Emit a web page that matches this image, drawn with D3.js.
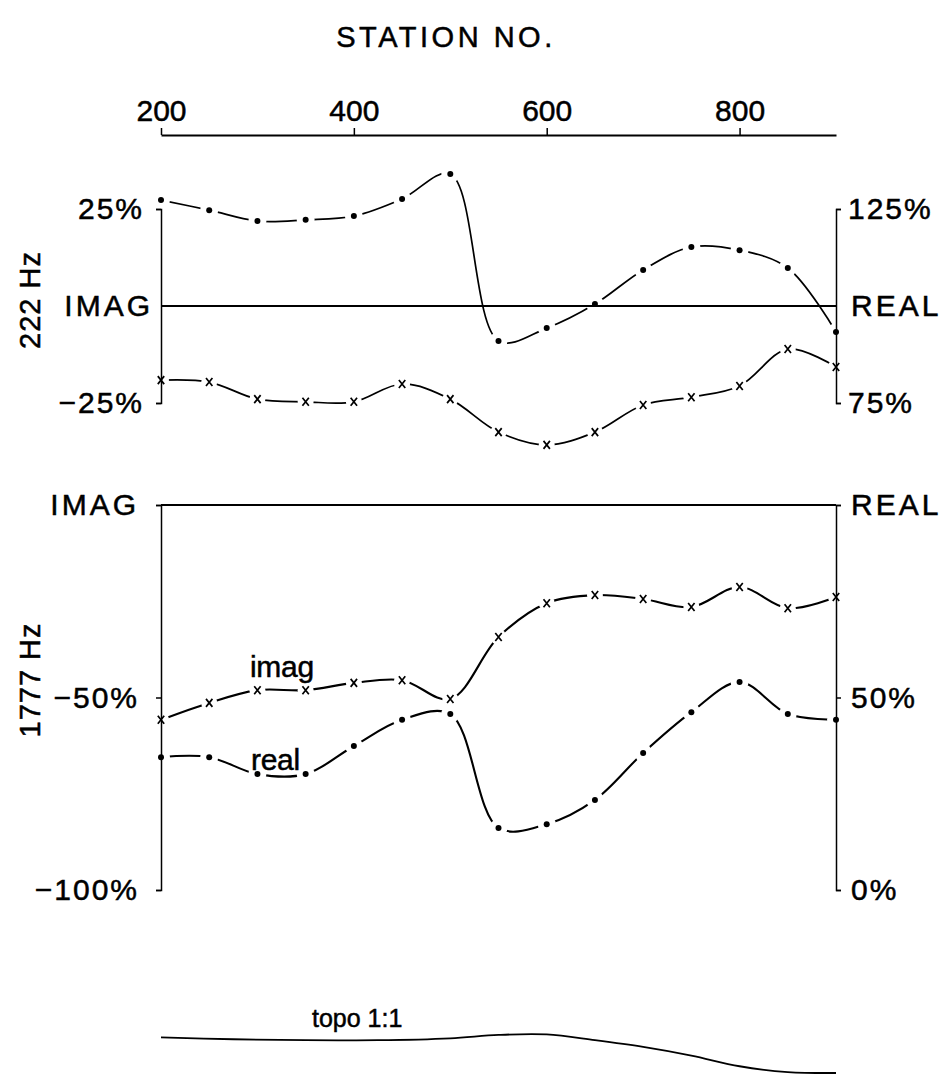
<!DOCTYPE html>
<html><head><meta charset="utf-8">
<script src="https://cdn.jsdelivr.net/npm/d3@7"></script>
<style>
body{margin:0;background:#fff}
text{font-family:"Liberation Sans",Arial,Helvetica,sans-serif;fill:#000}
</style>
</head><body>
<svg id="chart" width="950" height="1075"></svg>
<script>
// ---- data ----
const stations = [200,250,300,350,400,450,500,550,600,650,700,750,800,850,900];
const stationTicks = [200,400,600,800];
// 222 Hz (percent)
const imag222 = [-19.1,-19.6,-24.0,-24.7,-24.7,-20.1,-24.0,-32.5,-35.8,-32.5,-25.5,-23.5,-20.6,-11.1,-15.7];
const real222 = [127.3,124.7,121.9,122.2,123.2,127.6,134.0,91.0,94.3,100.5,109.3,115.2,114.4,109.8,93.3];
// 1777 Hz (percent)
const imag1777 = [-55.8,-51.4,-48.1,-48.1,-46.2,-45.5,-50.4,-34.3,-25.5,-23.4,-24.4,-26.5,-21.3,-26.8,-23.9];
const real1777 = [34.5,34.5,30.1,30.1,37.4,44.2,45.7,16.1,17.1,23.4,35.6,46.2,54.0,45.7,44.2];
// topography (relative elevation, station units, 1:1)
const topoStations = [200,275,350,425,500,550,600,650,700,750,800,850,900];
const topoElev = [37,35,34,34,36,39.5,40,34,27,18,7,1,0];
// axis tick values
const leftTicks222 = [-25,0,25];
const rightTicks222 = [75,100,125];
const leftTicks1777 = [-100,-50,0];
const rightTicks1777 = [0,50,100];

// ---- scales ----
const svg = d3.select("#chart");
const x = d3.scaleLinear().domain([200,900]).range([161,836]);
const yL1 = d3.scaleLinear().domain([-25,25]).range([403,209]);
const yR1 = d3.scaleLinear().domain([75,125]).range([403,209]);
const yL2 = d3.scaleLinear().domain([-100,0]).range([890,505]);
const yR2 = d3.scaleLinear().domain([0,100]).range([890,505]);
const k = (836-161)/700;
const yT = d3.scaleLinear().domain([0,100]).range([1073,1073-100*k]);

const pct = d => (d<0 ? "\u2212"+Math.abs(d) : d) + "%";

const series = [
  {id:"s1", vals: imag222, y: yL1, mark: "x", w: 1.7, gap: 8},
  {id:"s2", vals: real222, y: yR1, mark: "dot", w: 1.7, gap: 9},
  {id:"s3", vals: imag1777, y: yL2, mark: "x", w: 2.1, gap: 8},
  {id:"s4", vals: real1777, y: yR2, mark: "dot", w: 2.1, gap: 9}
];

const defs = svg.append("defs");
const gCurves = svg.append("g").attr("class","curves");
series.forEach(s => {
  s.pts = stations.map((st,i)=>({s:st, v:s.vals[i]}));
  // mask that opens a small gap in the line around each data point
  const m = defs.append("mask").attr("id","mask-"+s.id).attr("maskUnits","userSpaceOnUse")
    .attr("x",0).attr("y",0).attr("width",950).attr("height",1075);
  m.append("rect").attr("x",0).attr("y",0).attr("width",950).attr("height",1075).attr("fill","#fff");
  s.pts.forEach(d => m.append("circle").attr("cx",x(d.s)).attr("cy",s.y(d.v)).attr("r",s.gap).attr("fill","#000"));
  gCurves.append("path")
    .attr("d", d3.line().x(d=>x(d.s)).y(d=>s.y(d.v)).curve(d3.curveCatmullRom.alpha(0.5))(s.pts))
    .attr("fill","none").attr("stroke","#000").attr("stroke-width",s.w)
    .attr("mask","url(#mask-"+s.id+")");
});

// topo line
svg.append("path")
  .attr("d", d3.line().x(d=>x(d)).y((d,i)=>yT(topoElev[i])).curve(d3.curveCatmullRom.alpha(0.5))(topoStations))
  .attr("fill","none").attr("stroke","#000").attr("stroke-width",1.8);

// ---- axes ----
function styleAxis(g, fs){
  g.select(".domain").attr("stroke","#000").attr("stroke-width",1.5);
  g.selectAll(".tick line").attr("stroke","#000").attr("stroke-width",1.5);
  g.selectAll(".tick text").attr("font-size",fs).attr("letter-spacing",2).attr("fill","#000")
    .attr("stroke","#000").attr("stroke-width",0.5)
    .style("font-family","'Liberation Sans',Arial,sans-serif");
}
const topAx = svg.append("g").attr("transform","translate(0,135)")
  .call(d3.axisTop(x).tickValues(stationTicks).tickSizeInner(7).tickSizeOuter(0).tickPadding(7).tickFormat(d3.format("d")));
styleAxis(topAx, 30);
topAx.select(".domain").attr("stroke-width",1.8);
topAx.selectAll(".tick text").attr("letter-spacing",0);

// zero line panel 1
svg.append("line").attr("x1",x(200)).attr("x2",x(900)).attr("y1",yL1(0)).attr("y2",yL1(0))
  .attr("stroke","#000").attr("stroke-width",1.8);
// top line panel 2
svg.append("line").attr("x1",x(200)).attr("x2",x(900)).attr("y1",yL2(0)).attr("y2",yL2(0))
  .attr("stroke","#000").attr("stroke-width",1.8);

const l1 = svg.append("g").attr("transform",`translate(${x(200)},0)`)
  .call(d3.axisLeft(yL1).tickValues(leftTicks222).tickSizeInner(5).tickSizeOuter(5).tickPadding(12)
    .tickFormat(d=> d===0 ? "IMAG" : pct(d)));
styleAxis(l1, 30);
l1.selectAll(".tick").filter(d=>d===0).select("line").remove();
l1.selectAll(".tick").filter(d=>d===0).select("text").attr("x",-8).attr("letter-spacing",3);

const r1 = svg.append("g").attr("transform",`translate(${x(900)},0)`)
  .call(d3.axisRight(yR1).tickValues(rightTicks222).tickSizeInner(5).tickSizeOuter(5).tickPadding(7)
    .tickFormat(d=> d===100 ? "REAL" : d+"%"));
styleAxis(r1, 30);
r1.selectAll(".tick").filter(d=>d===100).select("line").remove();
r1.selectAll(".tick").filter(d=>d===100).select("text").attr("x",15).attr("letter-spacing",3);

const l2 = svg.append("g").attr("transform",`translate(${x(200)},0)`)
  .call(d3.axisLeft(yL2).tickValues(leftTicks1777).tickSizeInner(5).tickSizeOuter(5).tickPadding(17)
    .tickFormat(d=> d===0 ? "IMAG" : pct(d)));
styleAxis(l2, 30);
l2.selectAll(".tick").filter(d=>d===0).select("text").attr("letter-spacing",3);

const r2 = svg.append("g").attr("transform",`translate(${x(900)},0)`)
  .call(d3.axisRight(yR2).tickValues(rightTicks1777).tickSizeInner(5).tickSizeOuter(5).tickPadding(10)
    .tickFormat(d=> d===100 ? "REAL" : d+"%"));
styleAxis(r2, 30);
r2.selectAll(".tick").filter(d=>d===100).select("text").attr("letter-spacing",3);

// ---- markers ----
const gM = svg.append("g").attr("class","markers");
series.forEach(s => {
  s.pts.forEach(d => {
    if (s.mark === "dot") {
      gM.append("circle").attr("cx",x(d.s)).attr("cy",s.y(d.v)).attr("r",3).attr("fill","#000");
    } else {
      gM.append("path")
        .attr("transform",`translate(${x(d.s)},${s.y(d.v)})`)
        .attr("d","M-3.2,-4L3.2,4M3.2,-4L-3.2,4")
        .attr("stroke","#000").attr("stroke-width",1.7).attr("fill","none");
    }
  });
});

// ---- text ----
function label(t){ return t.attr("stroke","#000").attr("stroke-width",0.5); }
label(svg.append("text").attr("x",446).attr("y",47).attr("text-anchor","middle")
  .attr("font-size",29).attr("letter-spacing",3.5).text("STATION NO."));
label(svg.append("text").attr("transform","translate(40,300) rotate(-90)").attr("text-anchor","middle")
  .attr("font-size",29).attr("letter-spacing",1).text("222 Hz"));
label(svg.append("text").attr("transform","translate(40,680) rotate(-90)").attr("text-anchor","middle")
  .attr("font-size",29).attr("letter-spacing",1).text("1777 Hz"));
label(svg.append("text").attr("x",250).attr("y",677).attr("font-size",30).attr("letter-spacing",-0.3).text("imag"));
label(svg.append("text").attr("x",251).attr("y",770).attr("font-size",30).attr("letter-spacing",-0.3).text("real"));
label(svg.append("text").attr("x",312).attr("y",1027).attr("font-size",25).text("topo 1:1"));
</script>
</body></html>
